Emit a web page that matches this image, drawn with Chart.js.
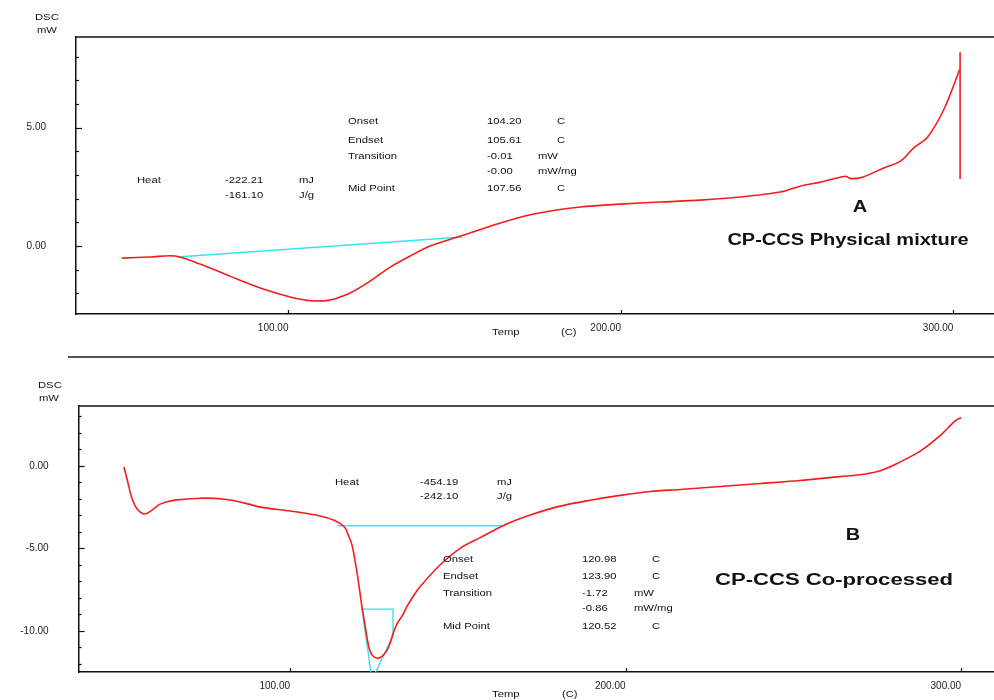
<!DOCTYPE html>
<html>
<head>
<meta charset="utf-8">
<script src="https://cdn.jsdelivr.net/npm/chart.js@4.4.1/dist/chart.umd.min.js"></script>
<style>
body { margin: 0; background: #fff; width: 994px; height: 700px; overflow: hidden; position: relative; }
canvas { position: absolute; left: 0; }
#sep { position: absolute; left: 68px; top: 356px; width: 926px; height: 2px; background: #555; }
</style>
</head>
<body>
<canvas id="dscA" width="994" height="350" style="top:0"></canvas>
<div id="sep"></div>
<canvas id="dscB" width="994" height="350" style="top:350px"></canvas>
<script>
// ---- data (Temp in C, DSC in mW) ----
var xTicks = [100, 200, 300];
var yTicksA = [-2, -1, 0, 1, 2, 3, 4, 5, 6, 7, 8];
var yTicksB = [-12, -11, -10, -9, -8, -7, -6, -5, -4, -3, -2, -1, 0, 1, 2, 3];

// A: physical mixture
var tempA = [49.9, 58.4, 66.0, 73.4, 82.4, 91.5, 100.5, 105.0, 108.9, 112.5, 115.5, 118.6, 124.6, 130.6, 136.6, 142.6, 147.1, 151.7,
             160.7, 169.7, 178.7, 187.8, 199.8, 211.8, 223.9, 235.9, 247.9, 253.9, 260.0, 267.5, 269.0, 272.6, 278.9, 284.1,
             288.0, 292.2, 297.3, 301.9];
var dscA  = [-0.51, -0.46, -0.42, -0.76, -1.27, -1.77, -2.15, -2.28, -2.32, -2.28, -2.15, -1.98, -1.48, -0.89, -0.42, 0.00, 0.21, 0.42,
             0.84, 1.22, 1.48, 1.65, 1.77, 1.86, 1.94, 2.07, 2.28, 2.53, 2.70, 2.95, 2.85, 2.91, 3.29, 3.59,
             4.14, 4.60, 5.82, 7.47];
var tempSpikeA = [302.0, 302.0];
var dscSpikeA  = [8.19, 2.83];
var tempBaseA = [66.5, 152.3];
var dscBaseA  = [-0.46, 0.38];
var tempPeakA = [105.0, 112.5];
var dscPeakA  = [-2.31, -2.31];

// B: co-processed
var tempB = [50.5, 51.4, 52.9, 54.7, 56.8, 58.9, 61.3, 65.7, 73.2, 80.6, 86.6, 91.2, 100.1, 109.0, 113.5, 116.4, 117.3, 118.5,
             119.7, 120.6, 121.5, 122.4, 123.0, 123.6, 124.5, 126.0, 127.4, 128.9, 129.8, 130.7, 131.9, 133.4, 134.9, 136.7,
             138.8, 144.7, 150.7, 156.7, 164.1, 171.6, 180.5, 189.5, 198.4, 207.4, 216.3, 228.2, 240.1, 252.0, 263.9, 269.9,
             275.9, 281.9, 287.8, 293.8, 298.3, 300.0];
var dscB  = [-0.06, -0.77, -1.96, -2.68, -2.92, -2.68, -2.32, -2.08, -1.96, -2.02, -2.26, -2.50, -2.74, -3.04, -3.33, -3.75, -4.17, -4.82,
             -6.13, -7.32, -8.63, -9.70, -10.48, -11.07, -11.49, -11.67, -11.55, -11.19, -10.77, -10.18, -9.58, -9.11, -8.51, -7.92,
             -7.32, -6.01, -5.00, -4.35, -3.57, -2.98, -2.44, -2.08, -1.79, -1.55, -1.43, -1.25, -1.07, -0.89, -0.65, -0.54,
             -0.30, 0.24, 0.89, 1.85, 2.74, 2.92];
var tempBaseB = [114.1, 164.1];
var dscBaseB  = [-3.63, -3.63];
var tempPeakB = [124.2, 123.3, 122.1, 121.5, 130.7, 130.7, 125.1];
var dscPeakB  = [-12.68, -11.31, -9.70, -8.69, -8.69, -10.30, -12.68];

function pts(xs, ys) {
    return xs.map(function (v, i) { return { x: v, y: ys[i] }; });
}

var RED = '#f41c1c';
var CYAN = '#35e4ef';
var FAMILY = 'Arial, "Liberation Sans", Helvetica, sans-serif';
var small = '9px ' + FAMILY;
var big = 'bold 16px ' + FAMILY;

var notesA = [
    { t: 'DSC', x: 35, y: 18 }, { t: 'mW', x: 37, y: 31 },
    { t: 'Heat', x: 137, y: 181 }, { t: '-222.21', x: 225, y: 181 }, { t: 'mJ', x: 299, y: 181 },
    { t: '-161.10', x: 225, y: 196 }, { t: 'J/g', x: 299, y: 196 },
    { t: 'Onset', x: 348, y: 122 }, { t: '104.20', x: 487, y: 122 }, { t: 'C', x: 557, y: 122 },
    { t: 'Endset', x: 348, y: 141 }, { t: '105.61', x: 487, y: 141 }, { t: 'C', x: 557, y: 141 },
    { t: 'Transition', x: 348, y: 157 }, { t: '-0.01', x: 487, y: 157 }, { t: 'mW', x: 538, y: 157 },
    { t: '-0.00', x: 487, y: 172 }, { t: 'mW/mg', x: 538, y: 172 },
    { t: 'Mid Point', x: 348, y: 189 }, { t: '107.56', x: 487, y: 189 }, { t: 'C', x: 557, y: 189 },
    { t: 'Temp', x: 492, y: 333 }, { t: '(C)', x: 561, y: 333 },
    { t: 'A', x: 860, y: 208, f: big, al: 'center' },
    { t: 'CP-CCS Physical mixture', x: 848, y: 241, f: big, al: 'center' }
];
var notesB = [
    { t: 'DSC', x: 38, y: 36 }, { t: 'mW', x: 39, y: 49 },
    { t: 'Heat', x: 335, y: 133 }, { t: '-454.19', x: 420, y: 133 }, { t: 'mJ', x: 497, y: 133 },
    { t: '-242.10', x: 420, y: 147 }, { t: 'J/g', x: 497, y: 147 },
    { t: 'Onset', x: 443, y: 210 }, { t: '120.98', x: 582, y: 210 }, { t: 'C', x: 652, y: 210 },
    { t: 'Endset', x: 443, y: 227 }, { t: '123.90', x: 582, y: 227 }, { t: 'C', x: 652, y: 227 },
    { t: 'Transition', x: 443, y: 244 }, { t: '-1.72', x: 582, y: 244 }, { t: 'mW', x: 634, y: 244 },
    { t: '-0.86', x: 582, y: 259 }, { t: 'mW/mg', x: 634, y: 259 },
    { t: 'Mid Point', x: 443, y: 277 }, { t: '120.52', x: 582, y: 277 }, { t: 'C', x: 652, y: 277 },
    { t: 'Temp', x: 492, y: 345 }, { t: '(C)', x: 562, y: 345 },
    { t: 'B', x: 853, y: 186, f: big, al: 'center' },
    { t: 'CP-CCS Co-processed', x: 834, y: 231, f: big, al: 'center', sx: 1.38 }
];

// frame top line, inward tick marks and the printed annotations
var dscFrame = {
    id: 'dscFrame',
    afterDraw: function (chart, args, opts) {
        var c = chart.ctx, a = chart.chartArea, sx = chart.scales.x, sy = chart.scales.y;
        c.save();
        c.strokeStyle = '#111';
        c.lineWidth = 1.5;
        c.beginPath(); c.moveTo(a.left, a.top); c.lineTo(a.right, a.top); c.stroke();
        c.lineWidth = 1.2;
        sy.ticks.forEach(function (t) {
            var py = Math.round(sy.getPixelForValue(t.value)) + 0.5;
            var len = t.value % 5 === 0 ? 6 : 3;
            c.beginPath(); c.moveTo(a.left, py); c.lineTo(a.left + len, py); c.stroke();
        });
        sx.ticks.forEach(function (t) {
            var px = Math.round(sx.getPixelForValue(t.value)) + 0.5;
            c.beginPath(); c.moveTo(px, a.bottom); c.lineTo(px, a.bottom - 4); c.stroke();
        });
        c.fillStyle = '#111';
        c.textBaseline = 'middle';
        opts.notes.forEach(function (n) {
            c.font = n.f || small;
            c.textAlign = n.al || 'left';
            c.save();
            c.translate(n.x, n.y);
            c.scale(n.sx || 1.25, 1);
            c.fillText(n.t, 0, 0);
            c.restore();
        });
        c.restore();
    }
};

function makeChart(id, sets, xr, yr, yTicks, left, top, bottom, notes) {
    return new Chart(document.getElementById(id).getContext('2d'), {
        type: 'scatter',
        data: { datasets: sets },
        options: {
            responsive: false,
            animation: false,
            layout: { padding: { top: top, left: 0, right: 0, bottom: 0 } },
            plugins: { legend: { display: false }, tooltip: { enabled: false }, dscFrame: { notes: notes } },
            scales: {
                x: {
                    type: 'linear', min: xr[0], max: xr[1],
                    afterBuildTicks: function (s) { s.ticks = xTicks.map(function (v) { return { value: v }; }); },
                    afterFit: function (s) { s.height = 350 - bottom; },
                    grid: { display: false },
                    border: { display: true, color: '#111', width: 1.5 },
                    ticks: {
                        align: 'end', padding: 0, color: '#222', maxRotation: 0,
                        font: { family: FAMILY, size: 10 },
                        callback: function (v) { return v.toFixed(2); }
                    }
                },
                y: {
                    type: 'linear', min: yr[0], max: yr[1],
                    afterBuildTicks: function (s) { s.ticks = yTicks.map(function (v) { return { value: v }; }); },
                    afterFit: function (s) { s.width = left; },
                    grid: { display: false },
                    border: { display: true, color: '#111', width: 1.5 },
                    ticks: {
                        padding: 22, color: '#222',
                        font: { family: FAMILY, size: 10 },
                        callback: function (v) { return v % 5 === 0 ? v.toFixed(2) : ''; }
                    }
                }
            }
        },
        plugins: [dscFrame]
    });
}

function line(xs, ys, color, w, tension) {
    return { data: pts(xs, ys), showLine: true, borderColor: color, borderWidth: w, pointRadius: 0, tension: tension };
}

makeChart('dscA', [
    line(tempA, dscA, RED, 1.6, 0.3),
    line(tempSpikeA, dscSpikeA, RED, 1.6, 0),
    line(tempBaseA, dscBaseA, CYAN, 1.4, 0),
    line(tempPeakA, dscPeakA, CYAN, 1.6, 0)
], [36.1, 312.2], [-2.87, 8.83], yTicksA, 76, 37, 314, notesA);

makeChart('dscB', [
    line(tempB, dscB, RED, 1.6, 0.3),
    line(tempBaseB, dscBaseB, CYAN, 1.4, 0),
    line(tempPeakB, dscPeakB, CYAN, 1.4, 0)
], [37.0, 309.8], [-12.5, 3.63], yTicksB, 78.6, 56, 327, notesB);
</script>
</body>
</html>
